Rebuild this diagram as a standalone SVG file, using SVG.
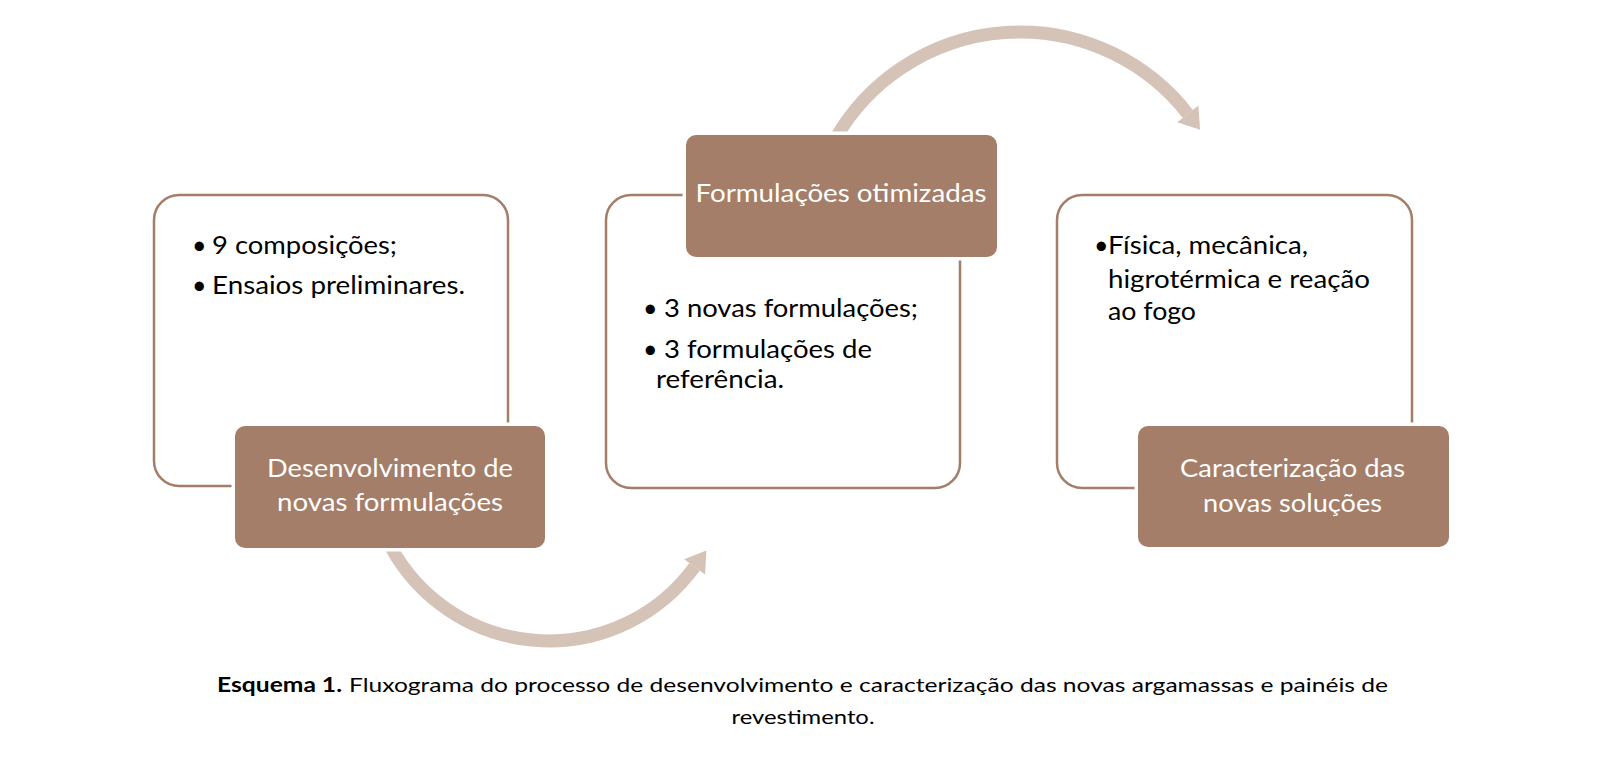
<svg xmlns="http://www.w3.org/2000/svg" width="1622" height="784" viewBox="0 0 1622 784">
<style>
.outline{fill:#ffffff;stroke:#A47E68;stroke-width:2.5}
.label{fill:#A47E68;stroke:#ffffff;stroke-width:7;paint-order:stroke}
.arc{fill:none;stroke:#D6C3B7;stroke-width:13}
.head{fill:#D6C3B7}
.t{font-family:Lato,"Open Sans","Liberation Sans",sans-serif;font-size:25px;fill:#000000}
.w{font-family:Lato,"Open Sans","Liberation Sans",sans-serif;font-size:25px;fill:#ffffff}
.cap{font-family:Lato,"Open Sans","Liberation Sans",sans-serif;font-size:20px;fill:#000000}
</style>
<rect width="1622" height="784" fill="#ffffff"/>
<g id="connectors">
<path class="arc" d="M 385.9 537 A 180 180 0 0 0 694.6 566.8"/>
<polygon class="head" points="706.4,550.6 705.1,574.4 684.1,559.2"/>
<path class="arc" d="M 835.5 138.5 A 213 213 0 0 1 1187.8 113.9"/>
<polygon class="head" points="1200.1,129.7 1198.4,105.6 1177.2,122.2"/>
</g>
<g id="node1">
<rect class="outline" x="154" y="195" width="354" height="291" rx="25"/>
<text class="t" x="192" y="254">•</text>
<text class="t" x="212" y="254" textLength="185" lengthAdjust="spacingAndGlyphs">9 composições;</text>
<text class="t" x="192" y="294">•</text>
<text class="t" x="212" y="294" textLength="253" lengthAdjust="spacingAndGlyphs">Ensaios preliminares.</text>
<rect class="label" x="235" y="426" width="310" height="122" rx="10"/>
<text class="w" x="390" y="477" text-anchor="middle" textLength="246" lengthAdjust="spacingAndGlyphs">Desenvolvimento de</text>
<text class="w" x="390" y="511" text-anchor="middle" textLength="226" lengthAdjust="spacingAndGlyphs">novas formulações</text>
</g>
<g id="node2">
<rect class="outline" x="606" y="195" width="354" height="293" rx="25"/>
<text class="t" x="643" y="317">•</text>
<text class="t" x="664" y="317" textLength="254" lengthAdjust="spacingAndGlyphs">3 novas formulações;</text>
<text class="t" x="643" y="358">•</text>
<text class="t" x="664" y="358" textLength="208" lengthAdjust="spacingAndGlyphs">3 formulações de</text>
<text class="t" x="656" y="388" textLength="128" lengthAdjust="spacingAndGlyphs">referência.</text>
<rect class="label" x="686" y="135" width="311" height="122" rx="10"/>
<text class="w" x="841" y="202" text-anchor="middle" textLength="291" lengthAdjust="spacingAndGlyphs">Formulações otimizadas</text>
</g>
<g id="node3">
<rect class="outline" x="1057" y="195" width="355" height="293" rx="25"/>
<text class="t" x="1094" y="254">•</text>
<text class="t" x="1108" y="254" textLength="200" lengthAdjust="spacingAndGlyphs">Física, mecânica,</text>
<text class="t" x="1108" y="288" textLength="262" lengthAdjust="spacingAndGlyphs">higrotérmica e reação</text>
<text class="t" x="1108" y="320" textLength="88" lengthAdjust="spacingAndGlyphs">ao fogo</text>
<rect class="label" x="1138" y="426" width="311" height="121" rx="10"/>
<text class="w" x="1292.5" y="477" text-anchor="middle" textLength="225" lengthAdjust="spacingAndGlyphs">Caracterização das</text>
<text class="w" x="1292.5" y="512" text-anchor="middle" textLength="179" lengthAdjust="spacingAndGlyphs">novas soluções</text>
</g>
<g id="caption">
<text class="cap" x="217" y="692" font-weight="bold" textLength="125" lengthAdjust="spacingAndGlyphs">Esquema 1.</text>
<text class="cap" x="349" y="692" textLength="1039" lengthAdjust="spacingAndGlyphs">Fluxograma do processo de desenvolvimento e caracterização das novas argamassas e painéis de</text>
<text class="cap" x="803" y="724" text-anchor="middle" textLength="143" lengthAdjust="spacingAndGlyphs">revestimento.</text>
</g>
</svg>
